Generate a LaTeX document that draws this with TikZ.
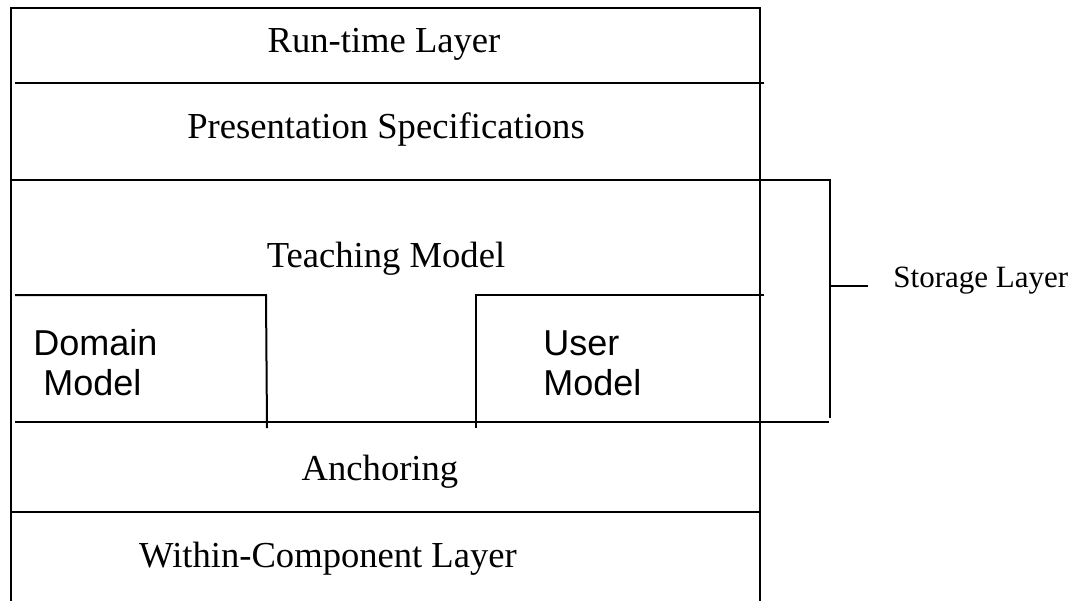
\documentclass[tikz,border=0pt]{standalone}
\usepackage{fontspec}
\setmainfont{Liberation Serif}
\newfontfamily\arialfont{Liberation Sans}
\tikzset{
  rule/.style={line width=1pt, line cap=butt, line join=miter},
  serlabel/.style={inner sep=0pt, anchor=base, font=\fontsize{18.3}{22}\selectfont},
  smalllabel/.style={inner sep=0pt, anchor=base west, font=\fontsize{15.5}{19}\selectfont},
  sanslabel/.style={inner sep=0pt, anchor=base west, font=\arialfont\fontsize{18}{20}\selectfont},
}
\begin{document}
\begin{tikzpicture}[x=0.5pt,y=-0.5pt]
\useasboundingbox (0,0) rectangle (1082,600);
% outer frame
\draw[rule] (11,608) -- (11,8) -- (760,8) -- (760,608);
% layer separators
\draw[rule] (15,83) -- (764,83);
\draw[rule] (11,180) -- (830,180) -- (830,418);
\draw[rule] (15,422) -- (829,422);
\draw[rule] (11,512) -- (760,512);
% storage tick
\draw[rule] (830,286) -- (868,286);
% domain model box
\draw[rule] (15,295) -- (266,295) -- (267,428);
% user model box
\draw[rule] (476,428) -- (476,295) -- (764,295);
% labels
\node[serlabel] (runtime) at (384,52) {Run-time Layer};
\node[serlabel] (pres) at (386,138) {Presentation Specifications};
\node[serlabel] (teach) at (386,267) {Teaching Model};
\node[serlabel] (anchor) at (380,480) {Anchoring};
\node[serlabel] (within) at (328,567) {Within-Component Layer};
\node[smalllabel] (storage) at (893,287) {Storage Layer};
\node[sanslabel] (dom1) at (33,355) {Domain};
\node[sanslabel] (dom2) at (43,395) {Model};
\node[sanslabel] (usr1) at (543,355) {User};
\node[sanslabel] (usr2) at (543,395) {Model};
\end{tikzpicture}
\end{document}
